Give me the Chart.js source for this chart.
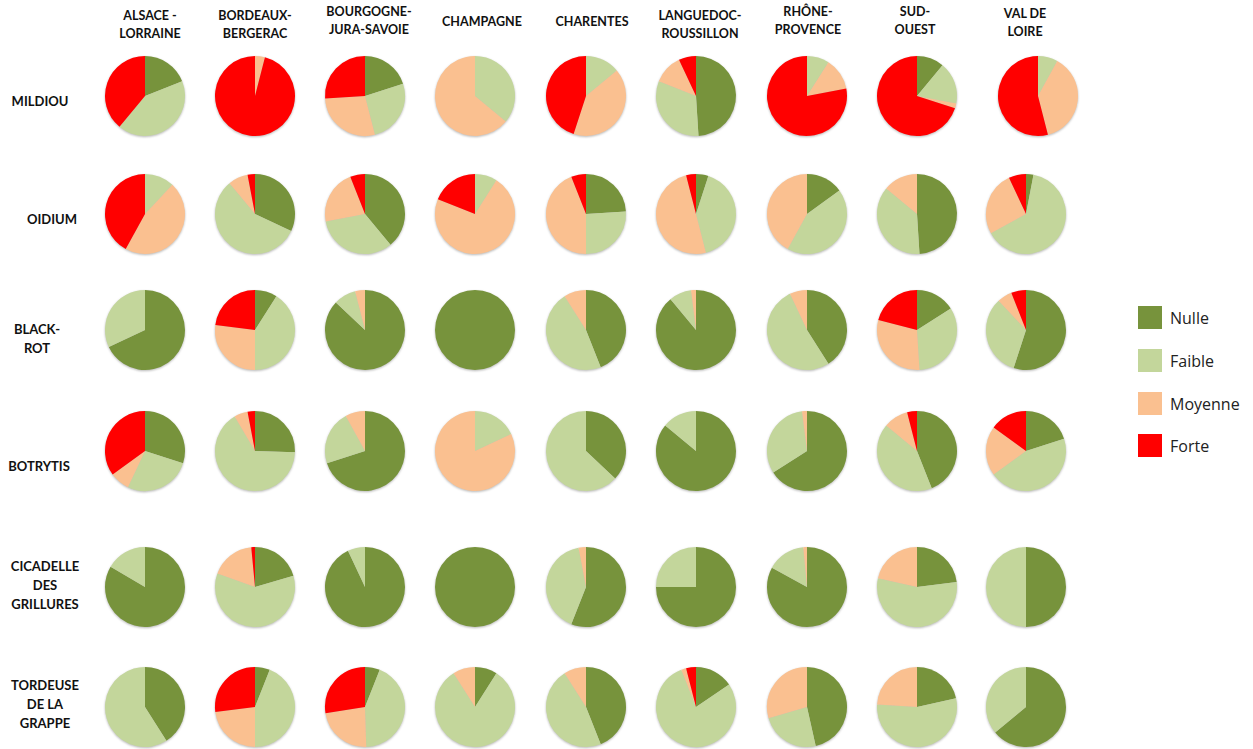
<!DOCTYPE html>
<html lang="fr">
<head>
<meta charset="UTF-8">
<title>Pression des maladies par région</title>
<script src="https://cdn.jsdelivr.net/npm/chart.js"></script>
<style>
    body {
        margin: 0;
        background: #fff;
        font-family: 'Lato', 'Open Sans', sans-serif;
    }
    #stage {
        position: relative;
        width: 1253px;
        height: 749px;
        overflow: hidden;
    }
    .lbl {
        position: absolute;
        transform: translate(-50%, -50%);
        font-weight: bold;
        font-size: 12.5px;
        line-height: 18px;
        color: #111;
        text-align: center;
        white-space: pre;
    }
    .lbl.row { font-size: 13px; line-height: 19px; }
    .pie {
        position: absolute;
        width: 84px;
        height: 84px;
        filter: drop-shadow(0 1px 1.2px rgba(0,0,0,0.28));
    }
    .leg-box {
        position: absolute;
        width: 24px;
        height: 23px;
    }
    .leg-txt {
        position: absolute;
        font-family: 'Open Sans', sans-serif;
        font-size: 16px;
        color: #222;
        transform: translateY(-50%);
    }
</style>
</head>
<body>
<div id="stage"></div>

<script>
// categories
const levels = ['Nulle', 'Faible', 'Moyenne', 'Forte'];
const levelColors = ['#77933C', '#C3D69B', '#FAC090', '#FF0000'];

const regions = ['ALSACE -\nLORRAINE', 'BORDEAUX-\nBERGERAC', 'BOURGOGNE-\nJURA-SAVOIE', 'CHAMPAGNE', 'CHARENTES',
    'LANGUEDOC-\nROUSSILLON', 'RHÔNE-\nPROVENCE', 'SUD-\nOUEST', 'VAL DE\nLOIRE'];
const diseases = ['MILDIOU', 'OIDIUM', 'BLACK-\nROT', 'BOTRYTIS', 'CICADELLE\nDES\nGRILLURES', 'TORDEUSE\nDE LA\nGRAPPE'];

// % par région : [Nulle, Faible, Moyenne, Forte]
const mildiou = [
    [19, 42, 0, 39], [0, 0, 4, 96], [20, 26, 28, 26], [0, 36, 64, 0], [0, 14, 41, 45],
    [49, 32, 12, 7], [0, 9, 13, 78], [11, 17, 2, 70], [0, 8, 38, 54]
];
const oidium = [
    [0, 12, 46, 42], [32, 57, 8, 3], [39, 33, 22, 6], [0, 9, 72, 19], [24, 26, 44, 6],
    [5, 41, 50, 4], [15, 43, 42, 0], [49, 37, 14, 0], [3, 64, 26, 7]
];
const blackRot = [
    [68, 32, 0, 0], [9, 41, 27, 23], [87, 9, 4, 0], [100, 0, 0, 0], [44, 47, 9, 0],
    [89, 9, 2, 0], [41, 52, 7, 0], [16, 33, 30, 21], [55, 33, 6, 6]
];
const botrytis = [
    [30, 27, 8, 35], [25.5, 66, 5.5, 3], [70, 22, 8, 0], [0, 18, 82, 0], [37, 63, 0, 0],
    [86, 14, 0, 0], [66, 32, 2, 0], [44, 42, 10, 4], [20, 45, 20, 15]
];
const cicadelle = [
    [83.5, 16.5, 0, 0], [20.5, 60, 18, 1.5], [93, 7, 0, 0], [100, 0, 0, 0], [56, 41, 3, 0],
    [75, 25, 0, 0], [83, 15.5, 1.5, 0], [23, 55.5, 21.5, 0], [50, 50, 0, 0]
];
const tordeuse = [
    [41, 59, 0, 0], [6, 44, 23, 27], [6, 43.5, 23, 27.5], [9, 82, 9, 0], [44, 47, 9, 0],
    [15.5, 78.5, 2, 4], [46.5, 24, 29.5, 0], [21.5, 54.5, 24, 0], [64, 36, 0, 0]
];
const series = [mildiou, oidium, blackRot, botrytis, cicadelle, tordeuse];

// layout
const colX = [145, 255, 365, 475, 586, 696, 807, 917, 1026];
const rowY = [96, 214, 330, 451, 587, 707];
const headX = [150, 255, 369, 482, 592, 700, 808, 915, 1025];
const headY = [25, 25, 21, 22, 22, 25, 21, 21, 23];
const rowLabelX = [40, 52, 37, 39, 45, 45];
const rowLabelY = [101, 219, 339, 466, 585, 704];

const stage = document.getElementById('stage');

function addLabel(text, x, y, cls) {
    const d = document.createElement('div');
    d.className = 'lbl' + (cls ? ' ' + cls : '');
    d.textContent = text;
    d.style.left = x + 'px';
    d.style.top = y + 'px';
    stage.appendChild(d);
}

regions.forEach((r, i) => addLabel(r, headX[i], headY[i]));
diseases.forEach((r, i) => addLabel(r, rowLabelX[i], rowLabelY[i], 'row'));

function drawPie(values, cx, cy) {
    const box = document.createElement('div');
    box.className = 'pie';
    box.style.left = (cx - 42) + 'px';
    box.style.top = (cy - 42) + 'px';
    const cv = document.createElement('canvas');
    box.appendChild(cv);
    stage.appendChild(box);

    new Chart(cv, {
        type: 'pie',
        data: {
            labels: levels,
            datasets: [{
                data: values,
                backgroundColor: levelColors,
                borderWidth: 0
            }]
        },
        options: {
            responsive: true,
            maintainAspectRatio: false,
            animation: false,
            events: [],
            layout: { padding: 2 },
            plugins: {
                legend: { display: false },
                tooltip: { enabled: false }
            }
        }
    });
}

series.forEach((rows, r) => {
    rows.forEach((vals, c) => {
        // la pastille mildiou / Val de Loire est un peu décalée dans l'original
        const shift = (r === 0 && c === 8) ? 12 : 0;
        drawPie(vals, colX[c] + shift, rowY[r]);
    });
});

// légende
const legY = [318, 361, 404, 446];
levels.forEach((name, i) => {
    const b = document.createElement('div');
    b.className = 'leg-box';
    b.style.left = '1138px';
    b.style.top = (legY[i] - 12) + 'px';
    b.style.background = levelColors[i];
    stage.appendChild(b);
    const t = document.createElement('div');
    t.className = 'leg-txt';
    t.textContent = name;
    t.style.left = '1170px';
    t.style.top = legY[i] + 'px';
    stage.appendChild(t);
});
</script>
</body>
</html>
